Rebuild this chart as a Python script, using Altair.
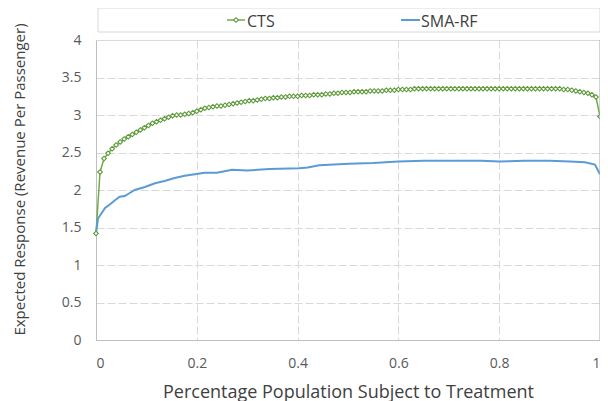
import altair as alt
import pandas as pd
import numpy as np

# CTS series (sampled every 0.008)
cts_y = [1.42, 2.24, 2.42, 2.49, 2.55, 2.60, 2.64, 2.68, 2.71, 2.74,
         2.77, 2.80, 2.83, 2.86, 2.89, 2.91, 2.93, 2.95, 2.97, 2.99,
         3.00, 3.00, 3.01, 3.02, 3.03, 3.05, 3.07, 3.09, 3.10, 3.11,
         3.12, 3.12, 3.13, 3.14, 3.15, 3.16, 3.17, 3.18, 3.19, 3.19,
         3.20, 3.21, 3.22, 3.22, 3.23, 3.23, 3.24, 3.24, 3.25, 3.25,
         3.25, 3.26, 3.26, 3.26, 3.27, 3.27, 3.27, 3.28, 3.28, 3.29,
         3.29, 3.30, 3.30, 3.30, 3.31, 3.31, 3.31, 3.31, 3.32, 3.32,
         3.32, 3.32, 3.33, 3.33, 3.33, 3.34, 3.34, 3.34, 3.34, 3.35,
         3.35, 3.35, 3.35, 3.35, 3.35, 3.35, 3.35, 3.35, 3.35, 3.35,
         3.35, 3.35, 3.35, 3.35, 3.35, 3.35, 3.35, 3.35, 3.35, 3.35,
         3.35, 3.35, 3.35, 3.35, 3.35, 3.35, 3.35, 3.35, 3.35, 3.35,
         3.35, 3.35, 3.35, 3.35, 3.35, 3.35, 3.34, 3.34, 3.33, 3.32,
         3.31, 3.30, 3.29, 3.27, 3.24, 2.98]
cts_x = list(np.round(np.linspace(0, 1, len(cts_y)), 3))

# SMA-RF series
sma_x = [0, 0.004, 0.01, 0.018, 0.028, 0.037, 0.047, 0.057, 0.067, 0.077,
         0.097, 0.117, 0.136, 0.156, 0.176, 0.196, 0.215, 0.24, 0.27, 0.3,
         0.344, 0.403, 0.42, 0.443, 0.502, 0.55, 0.6, 0.65, 0.7, 0.765,
         0.8, 0.85, 0.9, 0.94, 0.97, 0.99, 1.0]
sma_y = [1.42, 1.62, 1.68, 1.76, 1.81, 1.86, 1.91, 1.92, 1.96, 2.00,
         2.04, 2.09, 2.12, 2.16, 2.19, 2.21, 2.23, 2.23, 2.27, 2.26,
         2.28, 2.29, 2.30, 2.33, 2.35, 2.36, 2.38, 2.39, 2.39, 2.39,
         2.38, 2.39, 2.39, 2.38, 2.37, 2.34, 2.21]

x_ticks = [0, 0.2, 0.4, 0.6, 0.8, 1]
y_ticks = [0, 0.5, 1, 1.5, 2, 2.5, 3, 3.5, 4]

FONT = "Open Sans"
GREEN = "#70AD47"
GREEN_MK = "#5E9A3A"
BLUE = "#5B9BD5"
W, H = 504, 300

cts = pd.DataFrame({"x": cts_x, "y": cts_y, "series": "CTS"})
sma = pd.DataFrame({"x": sma_x, "y": sma_y, "series": "SMA-RF"})

xs = alt.Scale(domain=[0, 1], nice=False)
ys = alt.Scale(domain=[0, 4], nice=False)

xaxis = alt.Axis(values=x_ticks, format="~g",
                 title="Percentage Population Subject to Treatment",
                 titleFontSize=18, titleFontWeight="normal", titleColor="#404040",
                 titleFont=FONT, labelFont=FONT, labelFontSize=14, labelColor="#595959",
                 domainColor="#bfbfbf", ticks=False, labelPadding=16,
                 titleBaseline="alphabetic", titleY=57,
                 labelOverlap=False,
                 grid=True, gridColor="#d9d9d9", gridDash=[8, 3], gridWidth=1)
yaxis = alt.Axis(values=y_ticks, format="~g", tickCount=9,
                 title="Expected Response (Revenue Per Passenger)",
                 titleFontSize=15, titleFontWeight="normal", titleColor="#404040",
                 titleFont=FONT, labelFont=FONT, labelFontSize=14, labelColor="#595959",
                 domainColor="#bfbfbf", ticks=False, labelPadding=15,
                 titleX=-77, titleY=139, titleAlign="center", titleBaseline="middle",
                 labelOverlap=False,
                 grid=True, gridColor="#d9d9d9", gridDash=[8, 3], gridWidth=1)

X = alt.X("x:Q", scale=xs, axis=xaxis)
Y = alt.Y("y:Q", scale=ys, axis=yaxis)

cts_line = alt.Chart(cts).mark_line(color=GREEN, strokeWidth=1.5).encode(x=X, y=Y)
cts_pts = alt.Chart(cts).mark_point(shape="diamond", size=22, color=GREEN_MK, fill="white",
                                     filled=False, strokeWidth=1.1, opacity=1).encode(x=X, y=Y)
sma_line = alt.Chart(sma).mark_line(color=BLUE, strokeWidth=2).encode(x=X, y=Y)

right_rule = alt.Chart(pd.DataFrame({"a": [0]})).mark_rule(color="#a6a6a6", strokeWidth=1).encode(
    x=alt.value(W), y=alt.value(0), y2=alt.value(H))

# legend
one = pd.DataFrame({"a": [0]})
legend_box = alt.Chart(one).mark_rect(
    fill="white", stroke="#d9d9d9", strokeWidth=1).encode(
    x=alt.value(2), x2=alt.value(W), y=alt.value(-32), y2=alt.value(-8))
leg_cts_line = alt.Chart(one).mark_rule(color=GREEN, strokeWidth=1.5).encode(
    x=alt.value(131), x2=alt.value(149), y=alt.value(-20))
leg_cts_pt = alt.Chart(one).mark_point(
    shape="diamond", size=22, color=GREEN_MK, fill="white", filled=False, strokeWidth=1.1,
    opacity=1).encode(x=alt.value(140), y=alt.value(-20))
leg_cts_txt = alt.Chart(pd.DataFrame({"t": ["CTS"]})).mark_text(
    align="left", baseline="alphabetic", font=FONT, fontSize=16, color="#404040").encode(
    x=alt.value(151), y=alt.value(-13.5), text="t:N")
leg_sma_line = alt.Chart(one).mark_rule(color=BLUE, strokeWidth=2).encode(
    x=alt.value(305), x2=alt.value(324), y=alt.value(-20))
leg_sma_txt = alt.Chart(pd.DataFrame({"t": ["SMA-RF"]})).mark_text(
    align="left", baseline="alphabetic", font=FONT, fontSize=16, color="#404040").encode(
    x=alt.value(325), y=alt.value(-13.5), text="t:N")

chart = alt.layer(
    cts_line, sma_line, cts_pts, right_rule,
    legend_box, leg_cts_line, leg_cts_pt, leg_cts_txt, leg_sma_line, leg_sma_txt
).properties(
    width=W, height=H,
    autosize=alt.AutoSizeParams(type="none"),
    padding={"left": 88, "top": 32, "right": 0, "bottom": 61},
).configure_view(stroke="#a6a6a6", strokeWidth=1).configure(background="white")

chart.save("out.html", embed_options={"renderer": "svg", "actions": False})
